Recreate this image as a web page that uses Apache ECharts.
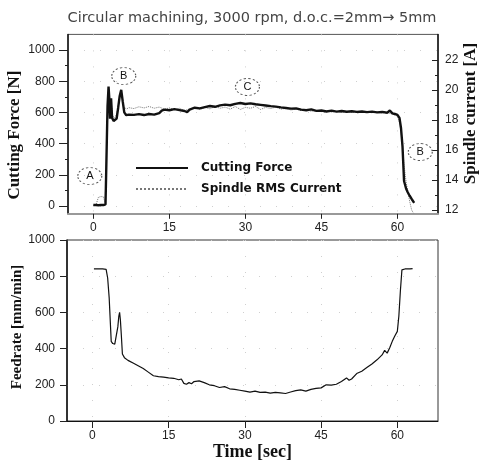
<!DOCTYPE html>
<html>
<head>
<meta charset="utf-8">
<script src="https://cdn.jsdelivr.net/npm/echarts@6/dist/echarts.min.js"></script>
<style>
  html, body { margin: 0; padding: 0; background: #fff; }
  #chart { width: 484px; height: 462px; }
</style>
</head>
<body>
<div id="chart"></div>
<script>
// ---- measured traces ----
// cutting force [N] vs time [s]
const forceTime = [
  0, 0.5, 1, 1.5, 2,
  2.4, 2.6, 2.8, 3.0, 3.15, 3.3, 3.5, 3.7,
  4.0, 4.3, 4.6, 4.9, 5.2, 5.5, 5.8, 6.1, 6.5,
  7, 8, 9, 10, 11, 12, 13, 13.5,
  14, 15, 16, 17, 18, 18.5,
  19, 20, 21, 22, 23, 24, 25, 26, 27, 28, 29, 30, 31, 32, 33, 34, 35, 36, 37, 38,
  39, 40, 41, 42, 43, 44, 45, 46, 47, 48, 49, 50, 51, 52, 53, 54, 55, 56, 57, 58, 58.5, 59,
  59.5, 60, 60.4, 60.7, 61, 61.3, 61.7, 62, 62.4, 62.8, 63.3
];
const forceN = [
  6, 6, 5, 6, 6,
  10, 320, 640, 765, 690, 560, 690, 565,
  545, 548, 560, 630, 705, 745, 670, 600, 582,
  586, 584, 589, 583, 590, 586, 596, 612,
  618, 614, 621, 615, 609, 602,
  618, 630, 626, 634, 641, 636, 645, 650, 646, 655, 660, 654, 658, 652, 648, 644, 640, 637, 632, 628,
  624, 626, 618, 614, 619, 610, 612, 606, 611, 605, 609, 604, 607, 603, 606, 602, 605, 600, 603, 598, 612, 594,
  590, 584, 565, 500, 380, 160, 112, 90, 66, 45, 20
];

// spindle RMS current [A] vs time [s]
const currentTime = [
  0, 0.5, 1, 1.5, 2,
  2.3, 2.5, 2.7, 2.9, 3.1, 3.3, 3.5, 3.8,
  4.2, 4.6, 5.0, 5.4, 5.7, 6.0, 6.5,
  7, 8, 9, 10, 11, 12, 13, 14, 15, 16, 17, 18, 19, 20, 21, 22, 23, 24, 25, 26, 27, 28, 29, 30,
  31, 32, 33, 34, 35, 36, 37, 38, 39, 40, 41, 42, 43, 44, 45, 46, 47, 48, 49, 50,
  51, 52, 53, 54, 55, 56, 57, 58, 59,
  60, 60.5, 61, 61.3, 61.7, 62, 62.4, 62.8, 63.2
];
const currentA = [
  12.3, 12.32, 12.85, 12.9, 12.88,
  12.5, 14.2, 17.6, 19.7, 19.9, 18.6, 19.2, 18.3,
  18.1, 18.4, 19.1, 19.8, 19.5, 18.9, 18.72,
  18.82, 18.76, 18.88, 18.8, 18.9, 18.78, 18.86, 18.72, 18.8, 18.68, 18.78, 18.62, 18.74, 18.82, 18.7, 18.84, 18.74, 18.9, 18.78, 18.86, 18.72, 18.9, 18.7, 18.84,
  18.78, 18.9, 18.7, 18.84, 18.76, 18.86, 18.72, 18.78, 18.66, 18.74, 18.62, 18.68, 18.58, 18.62, 18.55, 18.6, 18.52, 18.58, 18.5, 18.56,
  18.52, 18.55, 18.5, 18.54, 18.48, 18.52, 18.46, 18.48, 18.4,
  18.25, 17.7, 16.3, 15.0, 13.9, 13.3, 12.6, 12.0, 11.78
];

// feedrate [mm/min] vs time [s]
const feedTime = [
  0.3, 1, 2, 2.7, 3.0, 3.3, 3.5, 3.7, 4.0, 4.4, 4.7,
  5.0, 5.2, 5.35, 5.5, 5.7, 5.9, 6.3,
  7, 8, 9, 10, 11, 12, 13, 14, 15, 16, 17, 17.5, 18, 18.5, 19, 19.5,
  20, 21, 22, 23, 24, 25, 26, 27, 28, 29, 30, 31, 32, 33, 34, 35,
  36, 37, 38, 39, 40, 41, 42, 43, 44, 45, 46, 47, 48, 49, 50, 50.5,
  51, 52, 53, 54, 55, 56, 57, 57.5, 58, 58.5, 59, 59.5,
  60, 60.3, 60.6, 60.9, 61.5, 62.5, 63
];
const feedRate = [
  840, 840, 840, 838, 790, 680, 560, 440, 428, 425, 435,
  520, 580, 600, 560, 470, 370, 350,
  335, 320, 305, 290, 270, 250, 245, 242, 238, 236, 228, 232, 208, 203, 212, 206,
  218, 222, 212, 200, 195, 185, 190, 178, 175, 170, 165, 160, 165, 158, 160, 154,
  158, 155, 152, 160, 168, 172, 165, 175, 180, 183, 200, 198, 203, 218, 238, 225,
  232, 262, 275, 295, 315, 338, 365, 390, 375, 405, 440, 470,
  495, 580, 720, 835, 840, 840, 842
];

// circled phase markers on the force plot
const noteLabels = ['A', 'B', 'C', 'B'];
const noteTime   = [-0.7, 6.0, 30.4, 64.5];
const noteForce  = [192, 833, 763, 346];

// tick labels
const timeTicks    = [0, 15, 30, 45, 60];
const forceTicks   = [0, 200, 400, 600, 800, 1000];
const forceMinor   = [100, 300, 500, 700, 900];
const currentTicks = [12, 14, 16, 18, 20, 22];
const currentMinor = [13, 15, 17, 19, 21];

// ---- chart ----
const SANS = 'Liberation Sans, Arial, sans-serif';
const SERIF = 'Liberation Serif, Times New Roman, serif';
const plain = v => String(v);
const tickFont = { fontFamily: SANS, fontSize: 12, color: '#222', formatter: plain };
const nameFont = { fontFamily: SERIF, fontWeight: 'bold', fontSize: 17, color: '#111' };
const faintGrid = { show: true, lineStyle: { color: '#cfcfcf', width: 1, type: [1, 15] } };

const pairs = (xs, ys) => xs.map((x, i) => [x, ys[i]]);

const chart = echarts.init(document.getElementById('chart'), null, { renderer: 'canvas' });

chart.setOption({
  animation: false,
  backgroundColor: '#fff',
  title: {
    text: 'Circular machining, 3000 rpm, d.o.c.=2mm\u2192 5mm',
    left: 247, top: 6, textAlign: 'center',
    textStyle: { fontFamily: 'DejaVu Sans', fontSize: 14.5, fontWeight: 'normal', color: '#444' }
  },
  legend: {
    left: 130, top: 157, orient: 'vertical',
    itemWidth: 52, itemHeight: 12, itemGap: 9,
    itemStyle: { opacity: 0 },
    textStyle: { fontFamily: 'DejaVu Sans', fontWeight: 'bold', fontSize: 12, color: '#111', padding: [0, 0, 0, 8] },
    data: ['Cutting Force', 'Spindle RMS Current']
  },
  grid: [
    { left: 68, right: 46, top: 34.4, height: 179.4, show: true, borderColor: '#555', borderWidth: 1, outerBoundsMode: 'none', containLabel: false },
    { left: 67, right: 46, top: 240, height: 181, show: true, borderColor: '#333', borderWidth: 1, outerBoundsMode: 'none', containLabel: false }
  ],
  xAxis: [
    {
      gridIndex: 0, type: 'value', min: -5, max: 68,
      axisLine: { onZero: false, lineStyle: { color: '#999', width: 2 } },
      axisTick: { customValues: timeTicks, length: 5, lineStyle: { color: '#222' } },
      axisLabel: Object.assign({ customValues: timeTicks, margin: 8 }, tickFont),
      splitLine: faintGrid
    },
    {
      gridIndex: 1, type: 'value', min: -5, max: 68,
      name: 'Time [sec]', nameLocation: 'middle', nameGap: 22, nameMoveOverlap: false,
      nameTextStyle: Object.assign({}, nameFont, { fontSize: 18 }),
      axisLine: { onZero: false, lineStyle: { color: '#111', width: 1 } },
      axisTick: { customValues: timeTicks, length: 7, lineStyle: { color: '#222' } },
      axisLabel: Object.assign({ customValues: timeTicks, margin: 9 }, tickFont),
      splitLine: faintGrid
    }
  ],
  yAxis: [
    {
      gridIndex: 0, type: 'value', min: -50, max: 1100, position: 'left',
      name: 'Cutting Force [N]', nameLocation: 'middle', nameGap: 45, nameMoveOverlap: false,
      nameTextStyle: Object.assign({ padding: [0, 22, 0, 0] }, nameFont),
      axisLine: { show: true, onZero: false, lineStyle: { color: '#111', width: 1.5 } },
      axisTick: { show: true, customValues: forceTicks, length: 9, lineStyle: { color: '#222' } },
      axisLabel: Object.assign({ customValues: forceTicks, margin: 13 }, tickFont),
      splitLine: faintGrid
    },
    {
      gridIndex: 0, type: 'value', min: 11.75, max: 23.7, position: 'right',
      name: 'Spindle current [A]', nameLocation: 'middle', nameGap: 24, nameMoveOverlap: false,
      nameTextStyle: Object.assign({ padding: [0, 0, 0, 21] }, nameFont),
      axisLine: { show: true, onZero: false, lineStyle: { color: '#111', width: 1.5 } },
      axisTick: { show: true, inside: true, customValues: currentTicks, length: 6, lineStyle: { color: '#222' } },
      axisLabel: Object.assign({ customValues: currentTicks, margin: 7 }, tickFont),
      splitLine: { show: false }
    },
    {
      gridIndex: 0, type: 'value', min: -50, max: 1100, position: 'left',
      axisLine: { show: false, onZero: false }, axisLabel: { show: false }, splitLine: { show: false },
      axisTick: { show: true, customValues: forceMinor, length: 3, lineStyle: { color: '#222' } }
    },
    {
      gridIndex: 0, type: 'value', min: 11.75, max: 23.7, position: 'right',
      axisLine: { show: false, onZero: false }, axisLabel: { show: false }, splitLine: { show: false },
      axisTick: { show: true, inside: true, customValues: currentMinor, length: 3, lineStyle: { color: '#222' } }
    },
    {
      gridIndex: 1, type: 'value', min: 0, max: 1000, interval: 200, position: 'left',
      name: 'Feedrate [mm/min]', nameLocation: 'middle', nameGap: 42, nameMoveOverlap: false,
      nameTextStyle: Object.assign({ padding: [0, 0, 0, 7] }, nameFont, { fontSize: 15 }),
      axisLine: { show: true, onZero: false, lineStyle: { color: '#111', width: 1.5 } },
      axisTick: { show: true, length: 7, lineStyle: { color: '#222' } },
      axisLabel: Object.assign({ margin: 12 }, tickFont),
      splitLine: faintGrid
    }
  ],
  series: [
    {
      name: 'Spindle RMS Current', type: 'line', xAxisIndex: 0, yAxisIndex: 1,
      data: pairs(currentTime, currentA), symbol: 'none', z: 2,
      lineStyle: { color: '#777', width: 1, type: 'dotted' }, itemStyle: { color: '#777' }
    },
    {
      name: 'Cutting Force', type: 'line', xAxisIndex: 0, yAxisIndex: 0,
      data: pairs(forceTime, forceN), symbol: 'none', z: 3,
      lineStyle: { color: '#111', width: 2.4 }, itemStyle: { color: '#111' },
      markPoint: {
        symbol: 'circle', symbolSize: [24, 17], silent: true,
        itemStyle: { color: 'rgba(0,0,0,0)', borderColor: '#555', borderWidth: 1, borderType: [2, 2] },
        label: { show: true, position: 'inside', formatter: '{b}', fontFamily: SANS, fontSize: 11, color: '#111' },
        data: noteLabels.map((n, i) => ({ name: n, coord: [noteTime[i], noteForce[i]] }))
      }
    },
    {
      name: 'Feedrate', type: 'line', xAxisIndex: 1, yAxisIndex: 4,
      data: pairs(feedTime, feedRate), symbol: 'none',
      lineStyle: { color: '#111', width: 1.2 }, itemStyle: { color: '#111' }
    }
  ]
});
</script>
</body>
</html>
